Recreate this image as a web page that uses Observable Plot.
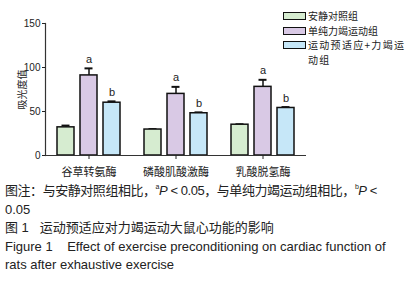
<!DOCTYPE html>
<html>
<head>
<meta charset="utf-8">
<script src="https://cdn.jsdelivr.net/npm/d3@7"></script>
<script src="https://cdn.jsdelivr.net/npm/@observablehq/plot@0.6"></script>
<style>
  html, body { margin: 0; padding: 0; background: #fff; }
  #wrap { position: relative; width: 417px; height: 283px; overflow: hidden; font-family: "Liberation Sans", "Noto Sans CJK SC", sans-serif; color: #222; }
  #legend { position: absolute; left: 0; top: 0; width: 417px; font-size: 10px; font-family: "Noto Sans CJK SC", sans-serif; color: #222; }
  .sw { position: absolute; width: 21px; height: 6px; border: 1px solid #111; }
  .lt { position: absolute; line-height: 14px; height: 14px; white-space: nowrap; }
  #caption { font-size: 13px; line-height: 18.5px; padding-left: 5px; white-space: nowrap; }
  #caption .l1 { letter-spacing: -0.45px; }
  #caption i { font-style: italic; }
  #caption sup { font-size: 7px; vertical-align: 6px; line-height: 0; }
</style>
</head>
<body>
<div id="wrap">
  <div id="chart"></div>
  <div id="legend"></div>
  <div id="caption"></div>
</div>
<script>
// ---- data ----
const categories = ["谷草转氨酶", "磷酸肌酸激酶", "乳酸脱氢酶"];
const seriesNames = ["安静对照组", "单纯力竭运动组", "运动预适应+力竭运动组"];
const quietValues = [32, 29.5, 35];
const quietErrors = [2, 0.5, 0.5];
const exhaustValues = [91, 70, 78];
const exhaustErrors = [8, 8, 8];
const precondValues = [60, 48, 54];
const precondErrors = [1.5, 1, 1];
const sigLabels = ["", "a", "b"];
const yTicks = [0, 50, 100, 150];
const colors = ["#d6ecd0", "#d9c9e5", "#c6e7f8"];

const values = [quietValues, exhaustValues, precondValues];
const errors = [quietErrors, exhaustErrors, precondErrors];
const rows = categories.flatMap((c, i) => seriesNames.map((s, j) => ({
  group: c, series: s, value: values[j][i], err: errors[j][i], sig: sigLabels[j]
})));

const chart = Plot.plot({
  width: 417, height: 182,
  marginLeft: 45, marginRight: 111, marginTop: 23, marginBottom: 27,
  style: { fontFamily: "'Liberation Sans', 'Noto Sans CJK SC', sans-serif", background: "white", color: "#222" },
  fx: { domain: categories, padding: 0, label: null },
  x: { domain: seriesNames, axis: null, paddingInner: 0.28, paddingOuter: 0.49 },
  y: { domain: [0, 150] },
  color: { domain: seriesNames, range: colors },
  marks: [
    Plot.ruleX(rows, { fx: "group", x: "series", y1: "value", y2: d => d.value + d.err, stroke: "#111", strokeWidth: 1.5 }),
    Plot.tickY(rows, { fx: "group", x: "series", y: d => d.value + d.err, insetLeft: 4.5, insetRight: 4.5, stroke: "#111", strokeWidth: 2 }),
    Plot.barY(rows, { fx: "group", x: "series", y: "value", fill: "series", stroke: "#111", strokeWidth: 1.5 }),
    Plot.text(rows, { fx: "group", x: "series", y: d => d.value + d.err, text: "sig", dy: -9, fontSize: 11, fill: "#222" }),
    Plot.ruleY([0], { stroke: "#333", strokeWidth: 1.2 }),
    Plot.frame({ anchor: "left", facetAnchor: "left", stroke: "#333", strokeWidth: 1.2 }),
    Plot.axisY({ ticks: yTicks, tickSize: 3, tickPadding: 2, fontSize: 10, label: "吸光度值", labelAnchor: "center", labelOffset: 27, labelArrow: "none" }),
    Plot.axisFx({ anchor: "bottom", tickSize: 4, tickPadding: 9, fontSize: 11, label: null })
  ]
});
document.getElementById("chart").appendChild(chart);

// ---- legend ----
const legend = document.getElementById("legend");
const legendRows = [
  { center: 16, lines: [seriesNames[0]] },
  { center: 30.5, lines: [seriesNames[1]] },
  { center: 45, lines: ["运动预适应+力竭运", "动组"] }
];
legendRows.forEach((r, i) => {
  const sw = document.createElement("div");
  sw.className = "sw";
  sw.style.left = "283px";
  sw.style.top = (r.center - 4) + "px";
  sw.style.background = colors[i];
  legend.appendChild(sw);
  r.lines.forEach((t, k) => {
    const lt = document.createElement("div");
    lt.className = "lt";
    lt.style.left = "308px";
    lt.style.top = (r.center - 7 + k * 14.5) + "px";
    if (i === 2) lt.style.letterSpacing = "1.3px";
    lt.textContent = t;
    legend.appendChild(lt);
  });
});

// ---- caption ----
document.getElementById("caption").innerHTML =
  "<span class='l1'>图注：与安静对照组相比，<sup>a</sup><i>P</i> &lt; 0.05，与单纯力竭运动组相比，<sup>b</sup><i>P</i> &lt;</span><br>" +
  "0.05<br>" +
  "图 1&nbsp;&nbsp;&nbsp;运动预适应对力竭运动大鼠心功能的影响<br>" +
  "Figure 1&nbsp;&nbsp;&nbsp;&nbsp;Effect of exercise preconditioning on cardiac function of<br>" +
  "rats after exhaustive exercise";
</script>
</body>
</html>
